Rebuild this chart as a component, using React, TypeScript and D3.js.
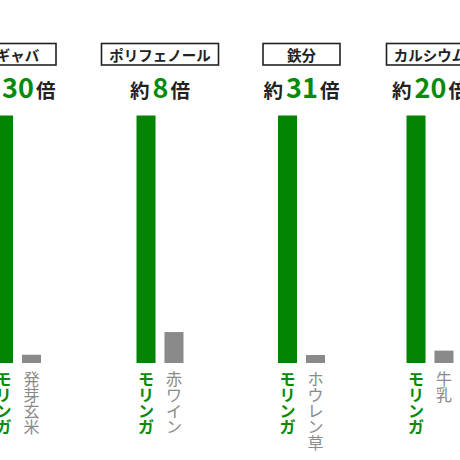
import React from "react";
import * as d3 from "d3";

const nutrients = ["ギャバ", "ポリフェノール", "鉄分", "カルシウム"];
const ratios = [30, 8, 31, 20];
const mainFood = "モリンガ";
const compareFoods = ["発芽玄米", "赤ワイン", "ホウレン草", "牛乳"];
const compareValues = [1, 1, 1, 1];

const W = 460;
const H = 460;
const panelCenters = [17.5, 160, 301.5, 430];
const baseY = 363;
const topY = 115.5;
const GREEN = "#058305";
const GREEN_TEXT = "#0a8a0a";
const GRAY = "#8a8a8a";
const FONT = "'Noto Sans CJK JP', 'Noto Sans', sans-serif";

export default function App() {
  return (
    <svg
      width={W}
      height={H}
      viewBox={`0 0 ${W} ${H}`}
      style={{ position: "absolute", left: 0, top: 0, background: "#fff" }}
      fontFamily={FONT}
    >
      <rect x={0} y={0} width={W} height={H} fill="#fff" />
      {nutrients.map((name, i) => {
        const c = panelCenters[i];
        const x = d3
          .scaleBand<string>()
          .domain(["main", "compare"])
          .range([c - 23.5, c + 23.5])
          .paddingInner(0.32)
          .paddingOuter(0);
        const y = d3.scaleLinear().domain([0, ratios[i]]).range([baseY, topY]);
        const boxW = Math.max(77, name.length * 15 + 12);
        const bars = [
          { key: "main", v: ratios[i], fill: GREEN, label: mainFood, color: GREEN_TEXT, weight: 700 },
          { key: "compare", v: compareValues[i], fill: GRAY, label: compareFoods[i], color: GRAY, weight: 400 },
        ];
        return (
          <g key={name}>
            <rect
              x={c - boxW / 2}
              y={43.5}
              width={boxW}
              height={21.5}
              fill="#fff"
              stroke="#222"
              strokeWidth={1.6}
            />
            <text
              x={c}
              y={54.5}
              textAnchor="middle"
              dominantBaseline="central"
              fontSize={14.5}
              fontWeight={700}
              fill="#222"
            >
              {name}
            </text>
            <text x={c} y={97.5} textAnchor="middle" fill="#222" fontWeight={700}>
              <tspan fontSize={19.5}>約</tspan>
              <tspan fontSize={27} fill={GREEN_TEXT} dx={3}>
                {ratios[i]}
              </tspan>
              <tspan fontSize={19.5} dx={2}>
                倍
              </tspan>
            </text>
            {bars.map((b) => {
              const bx = x(b.key)!;
              const bw = x.bandwidth();
              return (
                <g key={b.key}>
                  <rect x={bx} y={y(b.v)} width={bw} height={baseY - y(b.v)} fill={b.fill} />
                  {Array.from(b.label).map((ch, k) => (
                    <text
                      key={k}
                      x={bx + bw / 2}
                      y={378 + k * 16}
                      textAnchor="middle"
                      dominantBaseline="central"
                      fontSize={16}
                      fontWeight={b.weight}
                      fill={b.color}
                    >
                      {ch}
                    </text>
                  ))}
                </g>
              );
            })}
          </g>
        );
      })}
    </svg>
  );
}
